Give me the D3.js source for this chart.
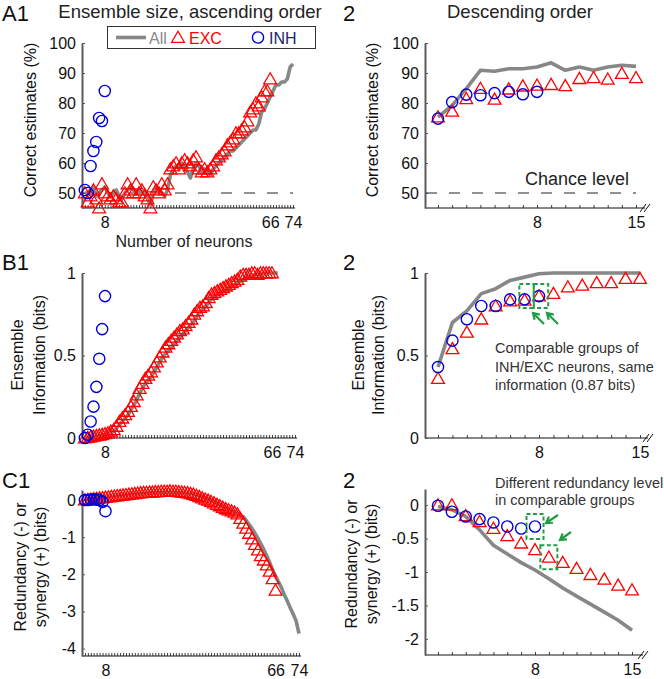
<!DOCTYPE html>
<html><head><meta charset="utf-8">
<script src="https://cdn.jsdelivr.net/npm/d3@7"></script>
<style>body{margin:0;background:#fff} svg text{font-family:"Liberation Sans",Arial,sans-serif}</style>
</head><body><svg id="c" width="664" height="679"></svg>
<script>
// ---------------- DATA ----------------
// Panel A1: correct estimates (%), ascending order, x = ensemble size 1..N
const a1All = [50,50,51,52,49,50,51,52,50,49, 50,51,49,48,50,51,52,51,50,51, 50,51,48,46,50,52,51,50,49,51,
  56,58,59,58,60,59,57,55,58,60, 59,57,58,57,56,58,59,60,61,62, 63,64,64,65,66,67,68,69,70,71,
  71,73,77,78,80,82,84,86,86,87, 87,88,92,93];
const a1Exc = [50,47,49,51,48,45,53,50,49,48, 49,48,47,47,50,53,51,50,53,50, 51,49,48,45,52,51,50,53,51,53,
  58,59,60,58,60,61,60,59,61,62, 58,57,58,57,58,59,61,62,63,64, 66,67,68,70,70,71,72,74,77,78,
  80,79,82,84,84,88];
const a1Inh = [51,50,59,64,67,75,74,84];
// Panel A2: descending order
const a2All = [75.3,79.2,84.8,90.9,90.6,91.4,91.4,92,93.4,90.9,92,90.9,92,92.6,92.2];
const a2Exc = [75.3,77.2,81.4,84.8,81.2,84.6,85.6,85.9,86.1,85.7,88.1,88.4,87.9,89.8,88.4];
const a2Inh = [74.8,80.3,82.8,82.6,83.3,83.7,82.9,83.7];
const chanceLevel = 50;
// Panel B1: ensemble information (bits)
const b1All = [0,0.002,0.005,0.008,0.01,0.013,0.016,0.02,0.025,0.03, 0.04,0.06,0.08,0.1,0.12,0.14,0.17,0.2,0.23,0.27,
  0.3,0.33,0.35,0.37,0.4,0.43,0.46,0.49,0.51,0.53, 0.55,0.57,0.59,0.61,0.63,0.65,0.67,0.69,0.71,0.74,
  0.76,0.78,0.8,0.82,0.84,0.86,0.87,0.88,0.89,0.9, 0.91,0.92,0.93,0.94,0.95,0.96,0.97,0.98,0.98,0.99,
  0.99,0.99,1,1,1,1,1,1];
const b1Exc = [0,0.003,0.006,0.01,0.013,0.017,0.02,0.025,0.03,0.04, 0.05,0.07,0.1,0.12,0.14,0.16,0.19,0.22,0.26,0.3,
  0.33,0.36,0.38,0.4,0.43,0.46,0.49,0.52,0.55,0.57, 0.59,0.61,0.63,0.65,0.66,0.68,0.7,0.72,0.75,0.77,
  0.79,0.8,0.82,0.85,0.87,0.88,0.89,0.9,0.91,0.92, 0.93,0.94,0.95,0.96,0.98,0.99,0.99,0.99,1,1,
  0.99,1,1,1,1,1];
const b1Inh = [0,0.02,0.1,0.19,0.31,0.48,0.66,0.86];
// Panel B2
const b2All = [0.43,0.70,0.77,0.875,0.905,0.955,0.975,0.995,1,1,1,1,1,1,1];
const b2Exc = [0.36,0.54,0.64,0.72,0.8,0.83,0.835,0.86,0.875,0.915,0.925,0.94,0.94,0.966,0.966];
const b2Inh = [0.43,0.59,0.72,0.8,0.8,0.84,0.84,0.86];
// Panel C1: redundancy (-) or synergy (+) (bits)
const c1All = [0,0.01,0.02,0.03,0.04,0.05,0.06,0.07,0.08,0.09, 0.1,0.11,0.12,0.13,0.14,0.15,0.16,0.17,0.17,0.18,
  0.18,0.19,0.19,0.2,0.2,0.2,0.21,0.21,0.21,0.21, 0.21,0.21,0.2,0.2,0.19,0.18,0.17,0.16,0.14,0.11,
  0.08,0.05,0.02,-0.01,-0.05,-0.09,-0.13,-0.17,-0.21,-0.25, -0.29,-0.33,-0.37,-0.41,-0.45,-0.55,-0.66,-0.77,-0.9,-1.03,
  -1.18,-1.33,-1.5,-1.68,-1.88,-2.05,-2.2,-2.36,-2.55,-2.72, -2.9,-3.07,-3.25,-3.6];
const c1Exc = [0,0.01,0.02,0.03,0.04,0.05,0.06,0.07,0.08,0.09, 0.1,0.11,0.12,0.13,0.14,0.15,0.16,0.17,0.18,0.19,
  0.2,0.2,0.21,0.21,0.22,0.22,0.23,0.23,0.23,0.24, 0.23,0.23,0.22,0.21,0.2,0.19,0.17,0.15,0.12,0.09,
  0.05,0.02,-0.01,-0.04,-0.08,-0.12,-0.16,-0.2,-0.24,-0.27, -0.3,-0.33,-0.38,-0.5,-0.63,-0.76,-0.9,-1.05,-1.2,-1.35,
  -1.5,-1.62,-1.75,-1.92,-2.12,-2.43];
const c1Inh = [0,0,0.01,0.02,0.01,0,-0.05,-0.3];
// Panel C2
const c2All = [-0.02,-0.07,-0.17,-0.37,-0.6,-0.73,-0.86,-0.97,-1.1,-1.24,-1.36,-1.48,-1.6,-1.72,-1.87];
const c2Exc = [0,0,-0.16,-0.25,-0.35,-0.46,-0.57,-0.67,-0.78,-0.86,-0.95,-1.04,-1.11,-1.2,-1.27];
const c2Inh = [-0.01,-0.1,-0.17,-0.21,-0.26,-0.32,-0.35,-0.32];
// Tick labels
const leftXLabels = [8,66,74];
const rightXLabels = [8,15];
const aYTicks = [50,60,70,80,90,100];
const bYTicks = [0,0.5,1];
const c1YTicks = [0,-1,-2,-3,-4];
const c2YTicks = [0,-0.5,-1,-1.5,-2];
const legendLabels = ["All","EXC","INH"];

// ---------------- DRAW ----------------
const svg = d3.select("#c");
const RED = "#ff0000", BLUE = "#0000dd", GRAY = "#878787", GREEN = "#1f9e45";
const triPath = "M0,-6.3L6.4,4.8L-6.4,4.8Z";

function tri(g, x, y) {
  g.append("path").attr("d", triPath).attr("transform", `translate(${x},${y})`)
    .attr("fill", "none").attr("stroke", RED).attr("stroke-width", 1.3);
}
function circ(g, x, y) {
  g.append("circle").attr("cx", x).attr("cy", y).attr("r", 5.6)
    .attr("fill", "none").attr("stroke", BLUE).attr("stroke-width", 1.4);
}

function panel(o) {
  const g = svg.append("g");
  const x = d3.scaleLinear().domain(o.xDomain).range(o.xRange);
  const y = d3.scaleLinear().domain(o.yDomain).range(o.yRange);
  const N = o.nTicks;
  const xa = g.append("g").attr("transform", `translate(0,${o.yRange[0]})`)
    .call(d3.axisBottom(x).tickValues(d3.range(1, N + 1)).tickSize(-3).tickSizeOuter(0).tickPadding(9)
      .tickFormat(d => o.xLabels.includes(d) ? d : ""));
  xa.select(".domain").remove();
  xa.selectAll(".tick line").attr("stroke", "#111").attr("stroke-width", 0.8);
  xa.selectAll("text").attr("font-size", 16).attr("fill", "#111")
    .style("font-family", '"Liberation Sans", Arial, sans-serif');
  g.append("line").attr("x1", o.axisX0).attr("x2", o.axisX1)
    .attr("y1", o.yRange[0]).attr("y2", o.yRange[0]).attr("stroke", "#111").attr("stroke-width", 1);
  if (o.brk) {
    const bx = o.axisX1, by = o.yRange[0];
    [-2, 2].forEach(dx => g.append("line").attr("x1", bx + dx - 3).attr("y1", by + 4)
      .attr("x2", bx + dx + 3).attr("y2", by - 4).attr("stroke", "#111").attr("stroke-width", 1));
  }
  const ya = g.append("g").attr("transform", `translate(${o.axisX0},0)`)
    .call(d3.axisLeft(y).tickValues(o.yTicks).tickSize(-3).tickSizeOuter(0).tickPadding(6)
      .tickFormat(d => String(d)));
  ya.select(".domain").attr("stroke", "#5a5a5a").attr("stroke-width", 2);
  ya.selectAll(".tick line").attr("stroke", "#5a5a5a");
  ya.selectAll("text").attr("font-size", 16).attr("fill", "#111")
    .style("font-family", '"Liberation Sans", Arial, sans-serif');
  if (o.chance !== undefined) {
    g.append("line").attr("x1", o.axisX0 + 1).attr("x2", o.chanceEnd)
      .attr("y1", y(o.chance)).attr("y2", y(o.chance))
      .attr("stroke", "#222").attr("stroke-width", 1).attr("stroke-dasharray", "11,12");
  }
  g.append("path").datum(o.all)
    .attr("d", d3.line().x((d, i) => x(i + 1)).y(d => y(d)))
    .attr("fill", "none").attr("stroke", GRAY).attr("stroke-width", 3.6).attr("stroke-linejoin", "round");
  o.exc.forEach((v, i) => tri(g, x(i + 1), y(v)));
  o.inh.forEach((v, i) => circ(g, x(i + 1), y(v)));
  return { g, x, y };
}

function ylabel(lines, cx, cy) {
  lines.forEach((t, i) => {
    svg.append("text").attr("transform", `translate(${cx[i]},${cy}) rotate(-90)`)
      .attr("text-anchor", "middle").attr("dy", "0.35em").attr("font-size", 16).attr("fill", "#111").text(t);
  });
}
function txt(t, x, y, size, anchor, fill) {
  return svg.append("text").attr("x", x).attr("y", y).attr("font-size", size)
    .attr("text-anchor", anchor || "start").attr("fill", fill || "#111").text(t);
}
function arrow(x1, y1, x2, y2) {
  const a = Math.atan2(y2 - y1, x2 - x1), L = 7, s = 0.55;
  svg.append("path").attr("d",
    `M${x1},${y1}L${x2},${y2}M${x2 - L * Math.cos(a - s)},${y2 - L * Math.sin(a - s)}L${x2},${y2}L${x2 - L * Math.cos(a + s)},${y2 - L * Math.sin(a + s)}`)
    .attr("fill", "none").attr("stroke", GREEN).attr("stroke-width", 2.2);
}
function dbox(x0, y0, x1, y1) {
  svg.append("rect").attr("x", x0).attr("y", y0).attr("width", x1 - x0).attr("height", y1 - y0)
    .attr("fill", "none").attr("stroke", GREEN).attr("stroke-width", 2).attr("stroke-dasharray", "4,2.5");
}

// A1
panel({ xDomain: [0, 74], xRange: [82, 293], yDomain: [45, 100], yRange: [208, 43], nTicks: 74,
  xLabels: leftXLabels, axisX0: 82, axisX1: 295, yTicks: aYTicks, chance: chanceLevel, chanceEnd: 293,
  all: a1All, exc: a1Exc, inh: a1Inh });
// A2
panel({ xDomain: [1, 15], xRange: [438, 636], yDomain: [45, 100], yRange: [208, 43], nTicks: 15,
  xLabels: rightXLabels, axisX0: 425, axisX1: 645, brk: true, yTicks: aYTicks, chance: chanceLevel, chanceEnd: 636,
  all: a2All, exc: a2Exc, inh: a2Inh });
// B1
panel({ xDomain: [0, 74], xRange: [82, 295], yDomain: [0, 1], yRange: [438, 273], nTicks: 74,
  xLabels: leftXLabels, axisX0: 82, axisX1: 297, yTicks: bYTicks,
  all: b1All, exc: b1Exc, inh: b1Inh });
// B2
const B2 = panel({ xDomain: [1, 15], xRange: [438, 640], yDomain: [0, 1], yRange: [438, 273], nTicks: 15,
  xLabels: rightXLabels, axisX0: 425, axisX1: 648, brk: true, yTicks: bYTicks,
  all: b2All, exc: b2Exc, inh: b2Inh });
// C1
panel({ xDomain: [0, 74], xRange: [82, 299], yDomain: [-4.2, 0.27], yRange: [656, 490], nTicks: 74,
  xLabels: leftXLabels, axisX0: 82, axisX1: 301, yTicks: c1YTicks,
  all: c1All, exc: c1Exc, inh: c1Inh });
// C2
const C2 = panel({ xDomain: [1, 15], xRange: [438, 632], yDomain: [-2.24, 0.24], yRange: [655, 489], nTicks: 15,
  xLabels: rightXLabels, axisX0: 425, axisX1: 643, brk: true, yTicks: c2YTicks,
  all: c2All, exc: c2Exc, inh: c2Inh });

// Legend
svg.append("rect").attr("x", 107.5).attr("y", 26.5).attr("width", 208).attr("height", 22)
  .attr("fill", "#fff").attr("stroke", "#333").attr("stroke-width", 1);
svg.append("line").attr("x1", 116).attr("x2", 146).attr("y1", 37.5).attr("y2", 37.5)
  .attr("stroke", GRAY).attr("stroke-width", 3.6);
txt(legendLabels[0], 149, 43.5, 16, "start", "#8a8a8a");
tri(svg, 178, 37.5);
txt(legendLabels[1], 189, 43.5, 16, "start", RED);
circ(svg, 258, 37.5);
txt(legendLabels[2], 269, 43.5, 16, "start", "#23236e");

// Panel letters & titles
txt("A1", 2, 21, 22);
txt("2", 343, 21, 22);
txt("B1", 2, 270, 22);
txt("2", 343, 270, 22);
txt("C1", 2, 488, 22);
txt("2", 343, 488, 22);
txt("Ensemble size, ascending order", 190, 18, 18.5, "middle", "#222");
txt("Descending order", 520, 18, 18.5, "middle", "#222");
txt("Number of neurons", 184, 247, 16, "middle", "#222");
txt("Chance level", 525, 185, 18, "start", "#222");

// Y labels
ylabel(["Correct estimates (%)"], [30], 120);
ylabel(["Correct estimates (%)"], [372], 120);
ylabel(["Ensemble", "Information (bits)"], [17, 39], 355);
ylabel(["Ensemble", "Information (bits)"], [358, 378], 355);
ylabel(["Redundancy (-) or", "synergy (+) (bits)"], [20, 40], 567);
ylabel(["Redundancy (-) or", "synergy (+) (bits)"], [351, 371], 564);

// Annotations B2
{
  const x = B2.x, y = B2.y;
  const yc = y(b2Inh[7]);
  dbox(x(6.5) + 2, yc - 12, x(7.5) + 2, yc + 12);
  dbox(x(7.5) + 2, yc - 12, x(8.5) + 2, yc + 12);
  arrow(544, 324, 533, 313);
  arrow(558, 324, 547, 313);
  txt("Comparable groups of", 495, 353, 14.5, "start", "#333");
  txt("INH/EXC neurons, same", 495, 371.5, 14.5, "start", "#333");
  txt("information (0.87 bits)", 495, 390, 14.5, "start", "#333");
}
// Annotations C2
{
  const x = C2.x, y = C2.y;
  const y1 = y(c2Inh[7]), y2 = y(c2Exc[8]);
  dbox(x(8) - 8.5, y1 - 12.5, x(8) + 8.5, y1 + 12.5);
  dbox(x(9) - 8.5, y2 - 12, x(9) + 8.5, y2 + 12);
  arrow(558, 515, 546, 523);
  arrow(571, 532, 560, 540);
  txt("Different redundancy level", 495, 488, 14.5, "start", "#333");
  txt("in comparable groups", 495, 505, 14.5, "start", "#333");
}
</script></body></html>
